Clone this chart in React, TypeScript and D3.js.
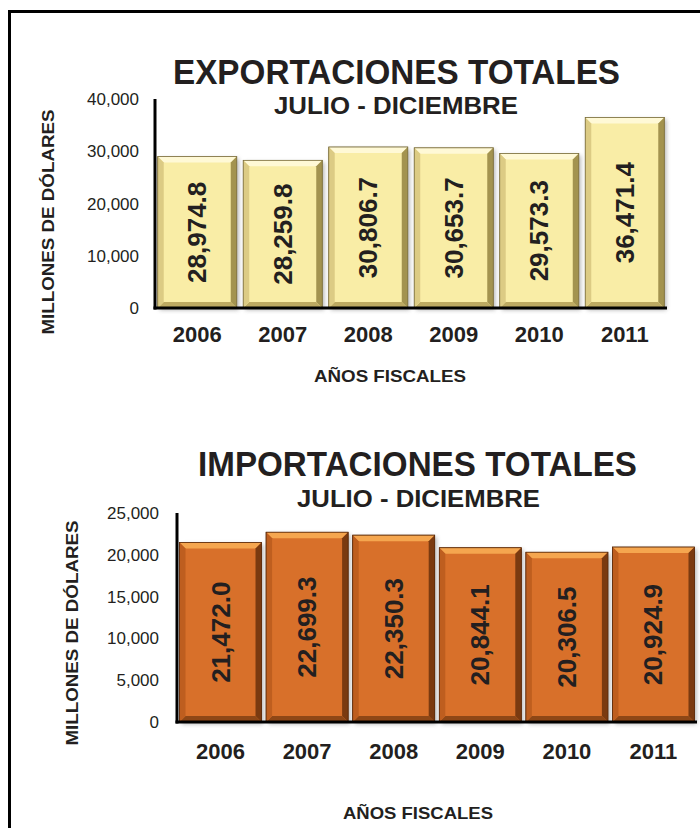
import React from "react";
import * as d3 from "d3";

const years = ["2006", "2007", "2008", "2009", "2010", "2011"];
const exportValues = [28974.8, 28259.8, 30806.7, 30653.7, 29573.3, 36471.4];
const importValues = [21472.0, 22699.3, 22350.3, 20844.1, 20306.5, 20924.9];
const exportTicks = [0, 10000, 20000, 30000, 40000];
const importTicks = [0, 5000, 10000, 15000, 20000, 25000];

const FONT = "Liberation Sans, Arial, Helvetica, sans-serif";
const TXT = "#231f20";

type Palette = { base: string; top: string; right: string; left: string; bottom: string; edge: string };

const yellow: Palette = { base: "#F9EDA6", top: "#FFF9D6", right: "#A3934F", left: "#DCCB84", bottom: "#BDAA62", edge: "#7d7040" };
const orange: Palette = { base: "#D8702A", top: "#F5A64F", right: "#7A3A10", left: "#BE5E1F", bottom: "#8E4716", edge: "#5a2a0a" };

function Bar({ x, y, w, h, pal, label, fid }: { x: number; y: number; w: number; h: number; pal: Palette; label: string; fid: string }) {
  const b = 6;
  const pts = (a: number[][]) => a.map((p) => p.join(",")).join(" ");
  return (
    <g>
      <rect x={x + 2} y={y + 2} width={w} height={h} fill="#777" opacity={0.55} filter={`url(#${fid})`} />
      <rect x={x} y={y} width={w} height={h} fill={pal.base} stroke={pal.edge} strokeWidth={0.6} />
      <polygon points={pts([[x, y], [x + w, y], [x + w - b, y + b], [x + b, y + b]])} fill={pal.top} />
      <polygon points={pts([[x + w, y], [x + w, y + h], [x + w - b, y + h - b], [x + w - b, y + b]])} fill={pal.right} />
      <polygon points={pts([[x, y + h], [x + w, y + h], [x + w - b, y + h - b], [x + b, y + h - b]])} fill={pal.bottom} />
      <polygon points={pts([[x, y], [x + b, y + b], [x + b, y + h - b], [x, y + h]])} fill={pal.left} />
      <rect x={x} y={y} width={w} height={h} fill="none" stroke={pal.edge} strokeWidth={0.8} />
      <text
        transform={`translate(${x + w / 2 + 9},${y + h / 2}) rotate(-90)`}
        textAnchor="middle"
        fontFamily={FONT}
        fontWeight="bold"
        fontSize={26}
        fill={TXT}
      >
        {label}
      </text>
    </g>
  );
}

function Chart(props: {
  values: number[];
  ticks: number[];
  title: string;
  titleX: number;
  titleY: number;
  titleLen: number;
  subX: number;
  subY: number;
  subLen: number;
  x0: number;
  x1: number;
  yTop: number;
  yBase: number;
  max: number;
  padIn: number;
  padOut: number;
  pal: Palette;
  tickRight: number;
  yTitleX: number;
  yTitleY: number;
  yTitleLen: number;
  xLabelY: number;
  axTitleX: number;
  axTitleY: number;
  axTitleLen: number;
  fid: string;
}) {
  const p = props;
  const x = d3.scaleBand<string>().domain(years).range([p.x0, p.x1]).paddingInner(p.padIn).paddingOuter(p.padOut);
  const y = d3.scaleLinear().domain([0, p.max]).range([p.yBase, p.yTop]);
  const fmt = d3.format(",");
  const vfmt = d3.format(",.1f");
  return (
    <g>
      <text x={p.titleX} y={p.titleY} fontFamily={FONT} fontWeight="bold" fontSize={35} fill={TXT} textLength={p.titleLen} lengthAdjust="spacingAndGlyphs">
        {p.title}
      </text>
      <text x={p.subX} y={p.subY} fontFamily={FONT} fontWeight="bold" fontSize={23} fill={TXT} textLength={p.subLen} lengthAdjust="spacingAndGlyphs">
        JULIO - DICIEMBRE
      </text>
      {p.ticks.map((t) => (
        <text key={t} x={p.tickRight} y={y(t) + 6} textAnchor="end" fontFamily={FONT} fontSize={17} fill={TXT}>
          {fmt(t)}
        </text>
      ))}
      <text
        transform={`translate(${p.yTitleX},${p.yTitleY}) rotate(-90)`}
        textAnchor="middle"
        fontFamily={FONT}
        fontWeight="bold"
        fontSize={16}
        fill={TXT}
        textLength={p.yTitleLen}
        lengthAdjust="spacingAndGlyphs"
      >
        MILLONES DE DÓLARES
      </text>
      {p.values.map((v, i) => (
        <Bar key={years[i]} x={x(years[i])!} y={y(v)} w={x.bandwidth()} h={y(0) - y(v)} pal={p.pal} label={vfmt(v)} fid={p.fid} />
      ))}
      <line x1={p.x0} x2={p.x0} y1={p.yTop} y2={p.yBase + 1.5} stroke="#000" strokeWidth={3} />
      <line x1={p.x0 - 1.5} x2={p.x1} y1={p.yBase} y2={p.yBase} stroke="#000" strokeWidth={3} />
      {years.map((yr) => (
        <text key={yr} x={x(yr)! + x.bandwidth() / 2} y={p.xLabelY} textAnchor="middle" fontFamily={FONT} fontWeight="bold" fontSize={22} fill={TXT}>
          {yr}
        </text>
      ))}
      <text x={p.axTitleX} y={p.axTitleY} fontFamily={FONT} fontWeight="bold" fontSize={17} fill={TXT} textLength={p.axTitleLen} lengthAdjust="spacingAndGlyphs">
        AÑOS FISCALES
      </text>
    </g>
  );
}

export default function App() {
  return (
    <svg width={700} height={828} style={{ position: "absolute", left: 0, top: 0, background: "#fff" }}>
      <defs>
        <filter id="sh" x="-20%" y="-20%" width="140%" height="140%">
          <feGaussianBlur stdDeviation={2} />
        </filter>
      </defs>
      <rect x={0} y={0} width={700} height={828} fill="#fff" />
      <rect x={9.5} y={11.5} width={720} height={840} fill="none" stroke="#000" strokeWidth={3} />
      <Chart
        values={exportValues}
        ticks={exportTicks}
        title="EXPORTACIONES TOTALES"
        titleX={173}
        titleY={84}
        titleLen={447}
        subX={274}
        subY={114}
        subLen={244}
        x0={155}
        x1={667}
        yTop={99}
        yBase={308}
        max={40000}
        padIn={0.076}
        padOut={0.032}
        pal={yellow}
        tickRight={139}
        yTitleX={54}
        yTitleY={222}
        yTitleLen={225}
        xLabelY={342}
        axTitleX={314}
        axTitleY={382}
        axTitleLen={152}
        fid="sh"
      />
      <Chart
        values={importValues}
        ticks={importTicks}
        title="IMPORTACIONES TOTALES"
        titleX={198}
        titleY={476}
        titleLen={439}
        subX={297}
        subY={507}
        subLen={243}
        x0={177}
        x1={697}
        yTop={513}
        yBase={722}
        max={25000}
        padIn={0.053}
        padOut={0.029}
        pal={orange}
        tickRight={159}
        yTitleX={78}
        yTitleY={633}
        yTitleLen={225}
        xLabelY={759}
        axTitleX={343}
        axTitleY={819}
        axTitleLen={150}
        fid="sh"
      />
    </svg>
  );
}
